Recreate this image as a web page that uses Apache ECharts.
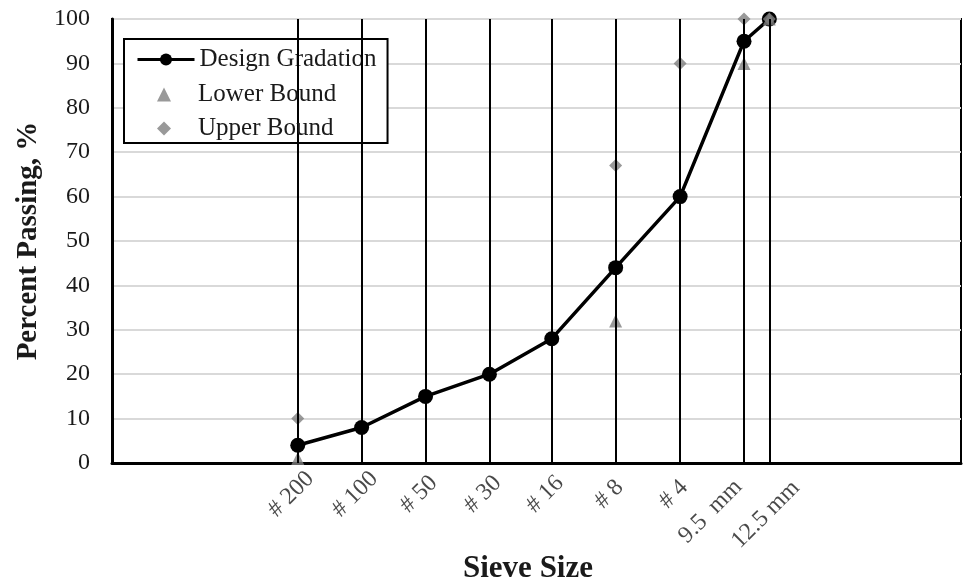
<!DOCTYPE html>
<html>
<head>
<meta charset="utf-8">
<script src="https://cdn.jsdelivr.net/npm/echarts@6/dist/echarts.min.js"></script>
<style>
  html, body { margin: 0; padding: 0; background: #fff; }
  #chart { width: 966px; height: 579px; }
</style>
</head>
<body>
<div id="chart"></div>
<script>
// Sieve sizes (mm) and their labels
const sieveNames = ['# 200', '# 100', '# 50', '# 30', '# 16', '# 8', '# 4', '9.5  mm', '12.5 mm'];
const sieveSizes = [0.075, 0.15, 0.3, 0.6, 1.18, 2.36, 4.75, 9.5, 12.5];

// Percent passing at each sieve (null = no control point)
const designGradation = [4, 8, 15, 20, 28, 44, 60, 95, 100];
const lowerBound = [1, null, null, null, null, 32, null, 90, 100];
const upperBound = [10, null, null, null, null, 67, 90, 100, 100];

const yTicks = [0, 10, 20, 30, 40, 50, 60, 70, 80, 90, 100];

const SERIF = '"Liberation Serif", "Times New Roman", serif';
const TXT = '#1a1a1a';
const MARK_GREY = '#7f7f7f';

function pairs(values) {
  const out = [];
  values.forEach((v, i) => { if (v != null) out.push([sieveSizes[i], v]); });
  return out;
}

// Hand nudges for the two closely spaced millimetre labels
const labelNudge = { '9.5  mm': [-33, 49], '12.5 mm': [-3, 52] };
const labelDefault = [-6, 32];

const legendText = { fontFamily: SERIF, fontSize: 25, color: TXT };

const chart = echarts.init(document.getElementById('chart'));

chart.setOption({
  backgroundColor: '#fff',
  animation: false,
  grid: {
    left: 112, right: 5, top: 19, bottom: 116,
    outerBoundsMode: 'none',
    containLabel: false,
    show: true, borderColor: '#000', borderWidth: 2, backgroundColor: 'transparent'
  },
  legend: [
    {
      // framed legend: line entry; frame extends down to hold the marker entries
      orient: 'vertical',
      left: 124, top: 39,
      data: ['Design Gradation'],
      backgroundColor: '#fff',
      borderColor: '#000', borderWidth: 2, borderRadius: 0,
      padding: [8, 11, 71, 12],
      itemWidth: 57, itemHeight: 15, itemTextGap: 5,
      lineStyle: { width: 3, color: '#000' },
      textStyle: legendText,
      z: 5
    },
    {
      // marker entries with square icons
      orient: 'vertical',
      left: 157, top: 82,
      data: ['Lower Bound', 'Upper Bound'],
      padding: 0,
      itemWidth: 14, itemHeight: 14, itemGap: 9, itemTextGap: 5,
      textStyle: Object.assign({}, legendText, { padding: [0, 0, 0, 22] }),
      z: 6
    }
  ],
  xAxis: {
    type: 'log', logBase: 10, min: 0.01, max: 100,
    name: 'Sieve Size', nameLocation: 'middle', nameGap: 90,
    nameTextStyle: { fontFamily: SERIF, fontSize: 31, fontWeight: 'bold', color: TXT, padding: [0, 17, 0, 0] },
    axisLine: { show: true, lineStyle: { color: '#000', width: 3 } },
    axisTick: { show: false },
    axisLabel: { show: false },
    splitLine: { show: false },
    minorTick: { show: false }
  },
  yAxis: {
    type: 'value', min: 0, max: 100, interval: 10,
    name: 'Percent Passing, %', nameLocation: 'middle', nameGap: 62, nameRotate: 90,
    nameTextStyle: { fontFamily: SERIF, fontSize: 29, fontWeight: 'bold', color: TXT },
    axisLine: { show: true, lineStyle: { color: '#000', width: 3 } },
    axisTick: { show: false },
    axisLabel: {
      fontFamily: SERIF, fontSize: 24, color: TXT, margin: 22,
      customValues: yTicks
    },
    splitLine: { show: true, lineStyle: { color: '#d9d9d9', width: 2 } }
  },
  series: [
    {
      name: 'Design Gradation',
      type: 'line',
      data: pairs(designGradation),
      symbol: 'circle', symbolSize: 15,
      lineStyle: { color: '#000', width: 3.5 },
      itemStyle: { color: '#000' },
      z: 3,
      markLine: {
        silent: true, symbol: 'none', precision: 4,
        label: { show: false },
        lineStyle: { color: '#000', width: 2, type: 'solid' },
        data: sieveSizes.map(s => ({ xAxis: s }))
      }
    },
    {
      name: 'Lower Bound',
      type: 'scatter',
      data: pairs(lowerBound),
      symbol: 'triangle', symbolSize: 13,
      itemStyle: { color: MARK_GREY },
      z: 4
    },
    {
      name: 'Upper Bound',
      type: 'scatter',
      data: pairs(upperBound),
      symbol: 'diamond', symbolSize: 13,
      itemStyle: { color: MARK_GREY },
      z: 4
    },
    {
      // sieve names placed under the x axis, rotated
      name: 'sieve labels',
      type: 'scatter',
      silent: true,
      symbolSize: 1,
      itemStyle: { color: 'rgba(0,0,0,0)' },
      data: sieveSizes.map((s, i) => ({
        value: [s, 0],
        label: { position: labelNudge[sieveNames[i]] || labelDefault }
      })),
      label: {
        show: true,
        formatter: p => sieveNames[p.dataIndex],
        rotate: 45,
        align: 'center', verticalAlign: 'middle',
        fontFamily: SERIF, fontSize: 24, color: TXT
      },
      z: 5
    }
  ]
});
</script>
</body>
</html>
